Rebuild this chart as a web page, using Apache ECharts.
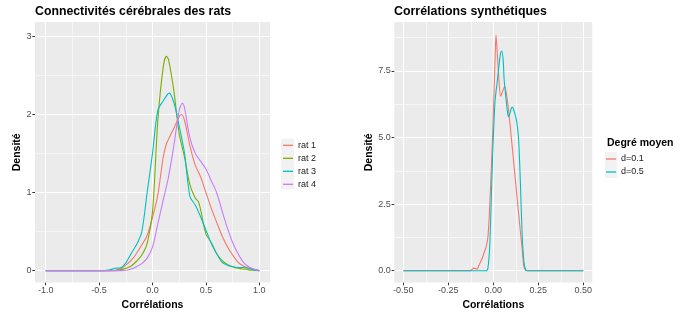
<!DOCTYPE html>
<html><head><meta charset="utf-8">
<script src="https://cdn.jsdelivr.net/npm/echarts@6/dist/echarts.min.js"></script>
<style>html,body{margin:0;padding:0;background:#fff}#c{width:680px;height:316px}</style>
</head><body><div id="c"></div>
<script>
// ---- data ----
const ratNames = ['rat 1', 'rat 2', 'rat 3', 'rat 4'];
const rat1X = [-1.0, -0.40, -0.35, -0.30, -0.25, -0.20, -0.15, -0.10, -0.05, 0.00, 0.05, 0.10, 0.13, 0.15, 0.20, 0.25, 0.27, 0.30, 0.35, 0.40, 0.45, 0.50, 0.55, 0.60, 0.65, 0.70, 0.75, 0.80, 0.85, 0.90, 0.95, 1.0];
const rat1Y = [0, 0, 0.005, 0.02, 0.07, 0.13, 0.22, 0.33, 0.45, 0.68, 0.97, 1.45, 1.62, 1.68, 1.82, 1.97, 2.0, 1.92, 1.6, 1.35, 1.2, 1.0, 0.8, 0.62, 0.45, 0.31, 0.2, 0.11, 0.06, 0.03, 0.01, 0];
const rat2X = [-1.0, -0.35, -0.30, -0.25, -0.20, -0.15, -0.10, -0.05, 0.00, 0.05, 0.10, 0.13, 0.15, 0.20, 0.25, 0.30, 0.35, 0.40, 0.43, 0.45, 0.50, 0.55, 0.60, 0.65, 0.70, 0.75, 0.80, 0.85, 0.90, 0.95, 1.0];
const rat2Y = [0, 0, 0.01, 0.03, 0.06, 0.12, 0.2, 0.35, 0.75, 1.92, 2.6, 2.74, 2.7, 2.3, 1.75, 1.45, 1.1, 0.93, 0.88, 0.78, 0.47, 0.36, 0.22, 0.13, 0.08, 0.05, 0.03, 0.02, 0.01, 0.005, 0];
const rat3X = [-1.0, -0.45, -0.40, -0.35, -0.30, -0.25, -0.20, -0.15, -0.10, -0.05, 0.00, 0.05, 0.10, 0.156, 0.20, 0.25, 0.30, 0.35, 0.40, 0.45, 0.50, 0.55, 0.60, 0.65, 0.70, 0.75, 0.80, 0.85, 0.90, 0.95, 1.0];
const rat3Y = [0, 0, 0.01, 0.03, 0.035, 0.1, 0.22, 0.33, 0.5, 1.0, 1.5, 2.05, 2.17, 2.27, 2.15, 1.85, 1.5, 0.95, 0.84, 0.69, 0.52, 0.35, 0.22, 0.11, 0.07, 0.05, 0.04, 0.04, 0.03, 0.01, 0];
const rat4X = [-1.0, -0.30, -0.25, -0.20, -0.15, -0.10, -0.05, 0.00, 0.05, 0.10, 0.15, 0.20, 0.25, 0.28, 0.30, 0.35, 0.40, 0.45, 0.50, 0.55, 0.60, 0.65, 0.70, 0.75, 0.80, 0.85, 0.90, 0.95, 1.0];
const rat4Y = [0, 0, 0.005, 0.02, 0.05, 0.09, 0.16, 0.3, 0.6, 0.9, 1.2, 1.6, 2.05, 2.14, 2.08, 1.7, 1.5, 1.4, 1.3, 1.15, 1.0, 0.77, 0.55, 0.36, 0.22, 0.11, 0.05, 0.02, 0];

const degNames = ['d=0.1', 'd=0.5'];
const d01X = [-0.5, -0.13, -0.12, -0.11, -0.10, -0.09, -0.08, -0.07, -0.06, -0.05, -0.04, -0.03, -0.02, -0.01, 0.00, 0.01, 0.015, 0.02, 0.03, 0.041, 0.05, 0.063, 0.08, 0.09, 0.10, 0.11, 0.12, 0.13, 0.14, 0.15, 0.16, 0.17, 0.18, 0.19, 0.5];
const d01Y = [0, 0, 0.04, 0.1, 0.08, 0.06, 0.2, 0.35, 0.5, 0.7, 0.9, 1.25, 2.4, 4.0, 5.8, 8.0, 8.85, 8.4, 7.3, 6.55, 6.7, 6.92, 6.3, 5.7, 5.0, 4.3, 3.6, 2.9, 2.2, 1.5, 0.85, 0.15, 0.02, 0, 0];
const d05X = [-0.5, -0.04, -0.03, -0.02, -0.01, 0.00, 0.01, 0.02, 0.03, 0.04, 0.047, 0.055, 0.06, 0.07, 0.08, 0.085, 0.09, 0.10, 0.106, 0.11, 0.12, 0.13, 0.14, 0.15, 0.16, 0.17, 0.18, 0.19, 0.5];
const d05Y = [0, 0, 0.1, 0.9, 3.0, 5.0, 6.4, 7.0, 7.6, 8.15, 8.25, 7.9, 7.2, 6.5, 5.9, 5.78, 5.85, 6.1, 6.15, 6.1, 5.9, 5.6, 5.0, 3.4, 1.4, 0.35, 0.03, 0, 0];

const leftXMajor = [-1, -0.5, 0, 0.5, 1];
const leftXMinor = [-0.75, -0.25, 0.25, 0.75];
const leftYMajor = [0, 1, 2, 3];
const leftYMinor = [0.5, 1.5, 2.5];
const rightXMajor = [-0.5, -0.25, 0, 0.25, 0.5];
const rightXMinor = [-0.375, -0.125, 0.125, 0.375];
const rightYMajor = [0, 2.5, 5, 7.5];
const rightYMinor = [1.25, 3.75, 6.25, 8.75];

// ---- styles ----
const ratColors = ['#F8766D', '#7CAE00', '#00BFC4', '#C77CFF'];
const degColors = ['#F8766D', '#00BFC4'];
const FONT = '"Liberation Sans", Arial, Helvetica, sans-serif';
const zip = (xs, ys) => xs.map((x, i) => [x, ys[i]]);

function majorAxis(grid, min, max, vals, fmt, name, nameGap) {
  return {
    type: 'value', gridIndex: grid, min: min, max: max,
    axisLine: { show: false, onZero: false },
    axisTick: { show: true, customValues: vals, length: 2.7, lineStyle: { color: '#333333', width: 1 } },
    axisLabel: { show: true, customValues: vals, formatter: fmt, color: '#4D4D4D', fontSize: 9, fontFamily: FONT, margin: 3.5 },
    splitLine: { show: true, lineStyle: { color: '#FFFFFF', width: 1.1 } },
    name: name, nameLocation: 'middle', nameGap: nameGap,
    nameTextStyle: { color: '#000', fontSize: 10.5, fontWeight: 'bold', fontFamily: FONT }
  };
}
function minorAxis(grid, min, max, vals) {
  return {
    type: 'value', gridIndex: grid, min: min, max: max,
    axisLine: { show: false, onZero: false },
    axisTick: { show: false, customValues: vals },
    axisLabel: { show: false, customValues: vals },
    splitLine: { show: true, lineStyle: { color: '#FFFFFF', width: 0.55 } }
  };
}
function lineSeries(name, xs, ys, color, xi, yi) {
  return {
    type: 'line', name: name, data: zip(xs, ys), xAxisIndex: xi, yAxisIndex: yi,
    symbol: 'none', showSymbol: false, smooth: 0.3, clip: true,
    lineStyle: { color: color, width: 1.1 }, itemStyle: { color: color }
  };
}
function legendBlock(names, left, top) {
  return {
    data: names, orient: 'vertical', left: left, top: top,
    icon: 'rect', itemWidth: 10, itemHeight: 1.3, itemGap: 0, padding: 0,
    textStyle: { fontSize: 9, lineHeight: 13, color: '#1A1A1A', fontFamily: FONT },
    selectedMode: false
  };
}

const chart = echarts.init(document.getElementById('c'), null, { renderer: 'canvas' });
const gridTop = 22, gridH = 267.3;
chart.setOption({
  animation: false,
  backgroundColor: '#FFFFFF',
  title: [
    { text: 'Connectivités cérébrales des rats', left: 35, top: 5.5, padding: 0,
      textStyle: { fontSize: 12.3, fontWeight: 'bold', color: '#000', fontFamily: FONT } },
    { text: 'Corrélations synthétiques', left: 394, top: 5.5, padding: 0,
      textStyle: { fontSize: 12.4, fontWeight: 'bold', color: '#000', fontFamily: FONT } }
  ],
  grid: [
    { left: 35, top: gridTop, width: 235, height: gridH, show: true, backgroundColor: '#EBEBEB', borderWidth: 0 },
    { left: 394.3, top: gridTop, width: 198, height: gridH, show: true, backgroundColor: '#EBEBEB', borderWidth: 0 }
  ],
  xAxis: [
    majorAxis(0, -1.1, 1.1, leftXMajor, v => v.toFixed(1), 'Corrélations', 16),
    minorAxis(0, -1.1, 1.1, leftXMinor),
    majorAxis(1, -0.55, 0.55, rightXMajor, v => v.toFixed(2), 'Corrélations', 16),
    minorAxis(1, -0.55, 0.55, rightXMinor)
  ],
  yAxis: [
    majorAxis(0, -0.153, 3.18, leftYMajor, v => String(v), 'Densité', 8.5),
    minorAxis(0, -0.153, 3.18, leftYMinor),
    majorAxis(1, -0.445, 9.34, rightYMajor, v => v.toFixed(1), 'Densité', 13.5),
    minorAxis(1, -0.445, 9.34, rightYMinor)
  ],
  legend: [
    legendBlock(ratNames, 283, 138.8),
    legendBlock(degNames, 606, 152.5)
  ],
  graphic: [
    { type: 'rect', z: 0, shape: { x: 281, y: 138.5, width: 13, height: 51 }, style: { fill: '#F2F2F2' } },
    { type: 'rect', z: 0, shape: { x: 605, y: 152, width: 12, height: 26 }, style: { fill: '#F2F2F2' } },
    { type: 'text', left: 607, top: 137.5, style: { text: 'Degré moyen', fill: '#000', font: 'bold 10.5px ' + FONT } }
  ],
  series: [
    lineSeries(ratNames[0], rat1X, rat1Y, ratColors[0], 0, 0),
    lineSeries(ratNames[1], rat2X, rat2Y, ratColors[1], 0, 0),
    lineSeries(ratNames[2], rat3X, rat3Y, ratColors[2], 0, 0),
    lineSeries(ratNames[3], rat4X, rat4Y, ratColors[3], 0, 0),
    lineSeries(degNames[0], d01X, d01Y, degColors[0], 2, 2),
    lineSeries(degNames[1], d05X, d05Y, degColors[1], 2, 2)
  ]
});
</script>
</body></html>
